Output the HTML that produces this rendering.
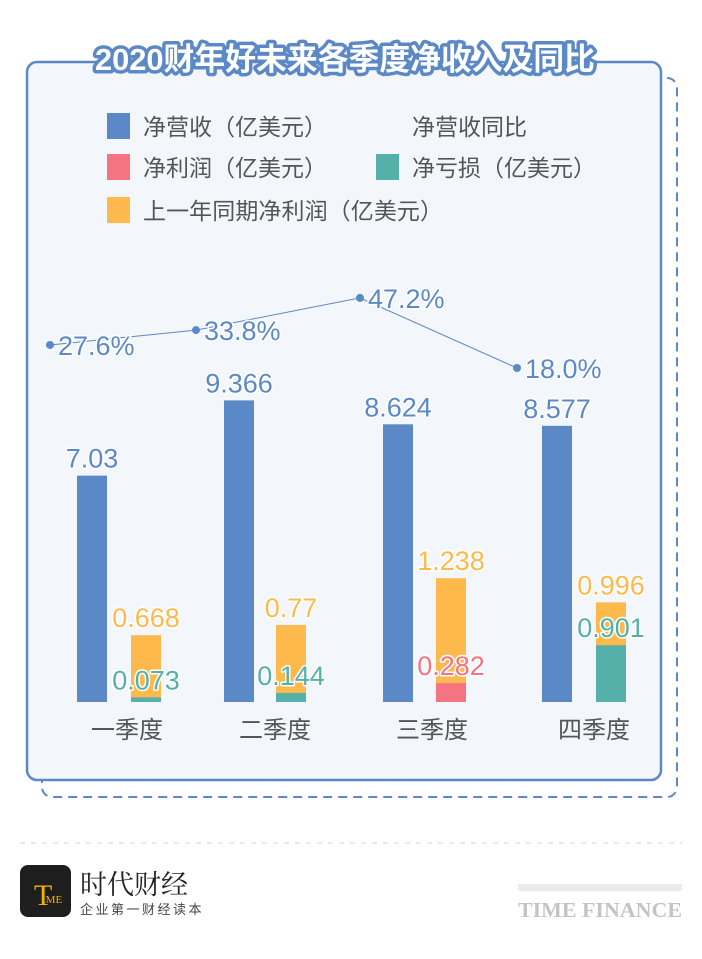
<!DOCTYPE html>
<html><head><meta charset="utf-8">
<style>
body{margin:0;background:#fff;width:702px;height:954px;overflow:hidden;font-family:"Liberation Sans","Noto Sans CJK SC",sans-serif;}
svg text{font-family:"Liberation Sans","Noto Sans CJK SC",sans-serif;}
</style></head><body>
<svg id="chart" width="702" height="954" viewBox="0 0 702 954" xmlns="http://www.w3.org/2000/svg">
<rect x="42" y="78" width="635" height="719" rx="10" fill="none" stroke="#5b88c6" stroke-width="2" stroke-dasharray="9,6"/>
<rect x="27" y="62" width="634" height="718" rx="10" fill="#f3f6fb" stroke="#5b88c6" stroke-width="2.5"/>
<text x="345" y="70" text-anchor="middle" font-size="31" font-weight="bold" fill="#fff" stroke="#5b88c6" stroke-width="7" paint-order="stroke" stroke-linejoin="round" textLength="500" lengthAdjust="spacingAndGlyphs">2020财年好未来各季度净收入及同比</text>
<g font-size="23" fill="#555">
<rect x="107" y="113" width="23" height="26" fill="#5b88c6"/>
<text x="143" y="135" textLength="184">净营收（亿美元）</text>
<text x="412" y="135">净营收同比</text>
<rect x="107" y="154" width="23" height="26" fill="#f47482"/>
<text x="143" y="176" textLength="184">净利润（亿美元）</text>
<rect x="376" y="154" width="23" height="26" fill="#55b0aa"/>
<text x="412" y="176" textLength="184">净亏损（亿美元）</text>
<rect x="107" y="197" width="23" height="26" fill="#fdb94b"/>
<text x="143" y="219" textLength="300">上一年同期净利润（亿美元）</text>
</g>
<g id="marks"></g>
<line x1="20" y1="843" x2="682" y2="843" stroke="#e4e4e4" stroke-width="1.5" stroke-dasharray="5,6"/>
<rect x="20" y="865" width="51" height="52" rx="8" fill="#1e1e1e"/>
<text x="34" y="905" font-size="30" fill="#f0b400" style="font-family:'Liberation Serif',serif">T</text>
<text x="42" y="903" font-size="11" fill="#f0b400" style="font-family:'Liberation Serif',serif">IME</text>
<text x="80" y="894" font-size="27" fill="#222" style="font-family:'Noto Serif CJK SC','Noto Sans CJK SC',serif">时代财经</text>
<text x="80" y="914" font-size="13" fill="#444" letter-spacing="2.5">企业第一财经读本</text>
<rect x="518" y="884" width="164" height="7" fill="#ebebeb"/>
<text x="682" y="917" text-anchor="end" font-size="21" font-weight="bold" fill="#c4c4c4" textLength="164" lengthAdjust="spacingAndGlyphs" style="font-family:'Liberation Serif',serif">TIME FINANCE</text>
</svg>
<script>
const categories=["一季度","二季度","三季度","四季度"];
const revenue=[7.03,9.366,8.624,8.577];
const revenueLabels=["7.03","9.366","8.624","8.577"];
const prevProfit=[0.668,0.77,1.238,0.996];
const prevProfitLabels=["0.668","0.77","1.238","0.996"];
const profit=[null,null,0.282,null];
const profitLabels=["","","0.282",""];
const loss=[0.073,0.144,null,0.901];
const lossLabels=["0.073","0.144","","0.901"];
const yoy=[27.6,33.8,47.2,18.0];
const yoyLabels=["27.6%","33.8%","47.2%","18.0%"];

const NS="http://www.w3.org/2000/svg";
const g=document.getElementById('marks');
const base=702;
const revX=[92,239,398,557],secX=[146,291,451,611],catX=[127,275,432,594],yoyX=[50,196,360,517];
const yRev=v=>base-v*32.2, yPrev=v=>base-v*100, yLoss=v=>base-v*63, yProfit=v=>base-v*67;
const yYoy=v=>411.2-v*2.4;
function mk(tag,attrs){const e=document.createElementNS(NS,tag);for(const k in attrs)e.setAttribute(k,attrs[k]);g.appendChild(e);return e;}
function label(x,y,t,c,n){const e=mk('text',{x:x,y:y,'text-anchor':'middle','font-size':27,fill:c,stroke:'#fff','stroke-width':3,'paint-order':'stroke','stroke-linejoin':'round'});e.textContent=t;

return e;}
categories.forEach((c,i)=>{
 let r=mk('rect',{x:revX[i]-15,y:yRev(revenue[i]),width:30,height:base-yRev(revenue[i]),fill:'#5b88c6'});
 
 
 label(revX[i],yRev(revenue[i])-8,revenueLabels[i],'#5b88c6','label-revenue-q'+(i+1));
 let p=mk('rect',{x:secX[i]-15,y:yPrev(prevProfit[i]),width:30,height:base-yPrev(prevProfit[i]),fill:'#fdb94b'});
 
 
 label(secX[i],yPrev(prevProfit[i])-8,prevProfitLabels[i],'#fdb94b','label-prev-profit-q'+(i+1));
 if(loss[i]!=null){let l=mk('rect',{x:secX[i]-15,y:yLoss(loss[i]),width:30,height:base-yLoss(loss[i]),fill:'#55b0aa'});
 
 
 label(secX[i],Math.min(yLoss(loss[i])-8,690),lossLabels[i],'#55b0aa','label-loss-q'+(i+1));}
 if(profit[i]!=null){let q=mk('rect',{x:secX[i]-15,y:yProfit(profit[i]),width:30,height:base-yProfit(profit[i]),fill:'#f47482'});
 
 
 label(secX[i],yProfit(profit[i])-8,profitLabels[i],'#f47482','label-profit-q'+(i+1));}
 let t=mk('text',{x:catX[i],y:738,'text-anchor':'middle','font-size':24,fill:'#555'});t.textContent=c;
 
 
});
const pl=mk('polyline',{points:yoy.map((v,i)=>yoyX[i]+','+yYoy(v)).join(' '),fill:'none',stroke:'#5b88c6','stroke-width':1});


yoy.forEach((v,i)=>{
 let d=mk('circle',{cx:yoyX[i],cy:yYoy(v),r:4,fill:'#5b88c6'});
 
 
 let t=mk('text',{x:yoyX[i]+8,y:yYoy(v)+10,'font-size':27,fill:'#5b88c6',stroke:'#fff','stroke-width':3,'paint-order':'stroke'});t.textContent=yoyLabels[i];
 
 
});
</script>
</body></html>
